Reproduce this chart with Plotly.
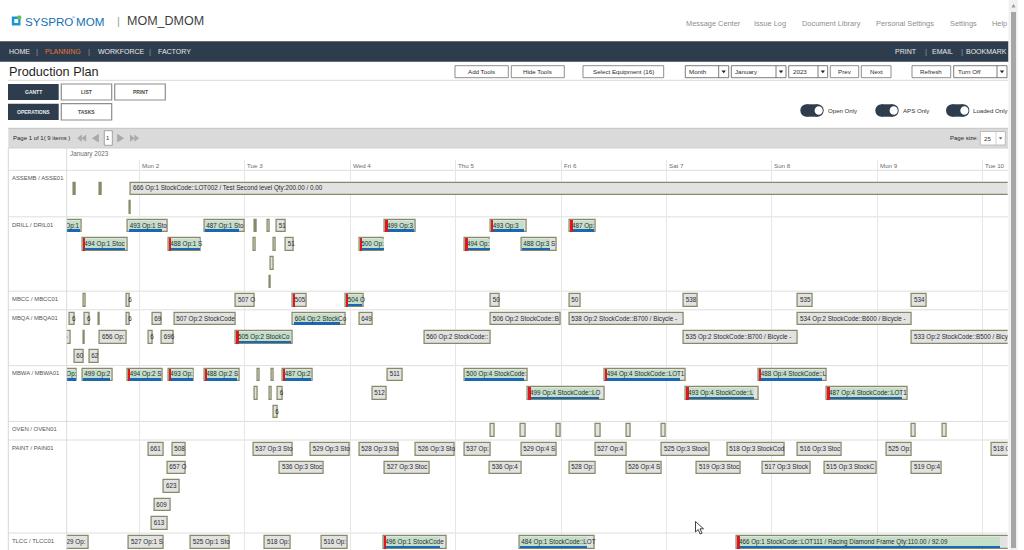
import plotly.graph_objects as go
import pandas as pd

W, H = 1024, 550
FONT = "Liberation Sans, Arial, sans-serif"

# ---------------- data ----------------
equipment = ["ASSEMB / ASSE01", "DRILL / DRIL01", "MBCC / MBCC01", "MBQA / MBQA01",
             "MBWA / MBWA01", "OVEN / OVEN01", "PAINT / PAIN01", "TLCC / TLCC01"]
equipment_lanes = [2, 4, 1, 3, 3, 1, 5, 1]
equipment_pad = [0.5, 0, 0, 0, 0, 0, 0, 0]

day_dates = ["2023-01-02", "2023-01-03", "2023-01-04", "2023-01-05", "2023-01-06",
             "2023-01-07", "2023-01-08", "2023-01-09", "2023-01-10"]
day_labels = ["Mon 2", "Tue 3", "Wed 4", "Thu 5", "Fri 6", "Sat 7", "Sun 8", "Mon 9", "Tue 10"]
month_label = "January 2023"
view_start, view_end = "2023-01-01 07:28", "2023-01-10 05:41"

# operations: equipment row, lane, start / end (hours after 2023-01-01 00:00)
op_row = ([0] * 4 + [1] * 19 + [2] * 10 + [3] * 22 + [4] * 20 + [5] * 8 + [6] * 27 + [7] * 8)
op_lane = ([0, 0, 0, 1] +
           [0, 0, 0, 0, 0, 0, 0, 0, 0, 1, 1, 1, 1, 1, 1, 1, 1, 2, 3] +
           [0] * 10 +
           [0] * 11 + [1] * 9 + [2, 2] +
           [0] * 12 + [1] * 7 + [2] +
           [0] * 8 +
           [0] * 14 + [1] * 10 + [2, 3, 4] +
           [0] * 8)
op_start = ([9.14, 15.05, 22.11, 21.81] +
            [3.90, 21.36, 38.80, 50.34, 53.14, 55.28, 79.93, 103.99, 122.04,
             11.02, 30.60, 49.95, 54.50, 57.33, 74.08, 98.14, 110.96, 53.98, 53.59] +
            [11.25, 21.04, 46.01, 58.92, 70.98, 103.99, 121.89, 147.93, 173.95, 199.90] +
            [8.22, 11.64, 14.67, 21.04, 26.96, 31.97, 58.92, 74.08, 103.99, 121.89, 173.95,
             6.40, 11.25, 15.05, 26.05, 29.10, 46.01, 88.88, 147.93, 199.90,
             9.20, 12.62] +
            [4.13, 11.02, 21.36, 30.60, 38.80, 50.86, 54.05, 56.64, 80.55, 97.98, 129.94, 165.00,
             50.34, 53.59, 55.51, 77.04, 112.48, 148.45, 180.55,
             54.50] +
            [103.99, 110.89, 118.93, 127.80, 134.86, 142.99, 199.90, 206.95] +
            [26.05, 31.51, 49.95, 63.02, 74.08, 86.99, 97.98, 110.96, 127.80, 142.99, 157.85, 173.95, 194.05, 217.95,
             30.37, 56.03, 79.93, 103.83, 121.89, 134.86, 150.95, 165.91, 179.93, 199.90,
             29.62, 27.41, 26.82] +
            [6.18, 21.66, 35.70, 52.61, 65.52, 79.54, 110.50, 160.06])
op_end = ([9.52, 15.44, 240.0, 22.11] +
          [10.89, 30.37, 47.90, 50.72, 53.59, 57.24, 86.92, 112.10, 127.89,
           21.27, 37.98, 50.41, 55.12, 59.06, 79.70, 103.83, 118.93, 54.50, 53.91] +
          [11.71, 21.88, 50.18, 62.18, 75.15, 106.11, 124.39, 151.18, 177.36, 203.31] +
          [9.20, 12.62, 15.05, 21.88, 29.10, 45.94, 70.98, 77.04, 119.84, 147.93, 199.90,
           8.38, 11.64, 21.13, 27.05, 31.90, 58.92, 103.99, 173.95, 240.0,
           11.25, 14.67] +
          [9.75, 17.85, 29.24, 36.45, 46.76, 51.32, 54.50, 63.38, 83.87, 112.41, 148.29, 180.39,
           50.86, 54.14, 56.64, 80.32, 129.85, 165.00, 198.92,
           55.51] +
          [104.90, 111.87, 119.93, 128.94, 135.86, 143.90, 200.81, 207.87] +
          [29.62, 34.56, 58.92, 71.81, 82.96, 95.87, 103.99, 118.93, 134.86, 153.75, 170.92, 183.80, 199.74, 240.0,
           34.47, 65.89, 90.02, 110.96, 127.80, 142.83, 160.90, 176.91, 191.77, 206.73,
           33.27, 31.15, 30.37] +
          [12.39, 29.46, 44.49, 58.47, 71.35, 93.98, 127.67, 232.0])
op_label = (["", "", "666 Op:1 StockCode::LOT002 / Test Second level Qty:200.00 / 0.00", ""] +
            ["499 Op:1", "493 Op:1 Sto", "487 Op:1 Sto", "", "", "51", "499 Op:3", "493 Op:3", "487 Op:",
             "494 Op:1 Stoc", "488 Op:1 S", "", "", "51", "500 Op:", "494 Op:", "488 Op:3 S", "", ""] +
            ["", "6", "507 O", "505", "504 O", "50", "50", "538", "535", "534"] +
            ["6", "6", "", "6", "69", "507 Op:2 StockCode", "604 Op:2 StockCo", "649",
             "506 Op:2 StockCode::B", "538 Op:2 StockCode::B700 / Bicycle -", "534 Op:2 StockCode::B600 / Bicycle -",
             "6", "", "656 Op:", "6", "696", "505 Op:2 StockCo", "560 Op:2 StockCode::",
             "535 Op:2 StockCode::B700 / Bicycle -", "533 Op:2 StockCode::B500 / Bicycle - C",
             "60", "62"] +
            ["493 Op:", "499 Op:2", "494 Op:2 S", "493 Op:", "488 Op:2 S", "", "", "487 Op:2", "511",
             "500 Op:4 StockCode:", "494 Op:4 StockCode::LOT1", "488 Op:4 StockCode::L",
             "", "", "6", "512", "499 Op:4 StockCode::LO", "493 Op:4 StockCode::L", "487 Op:4 StockCode::LOT1",
             "6"] +
            [""] * 8 +
            ["661", "508", "537 Op:3 Sto", "529 Op:3 Sto", "528 Op:3 Sto", "526 Op:3 Sto", "537 Op:",
             "529 Op:4 S", "527 Op:4", "525 Op:3 Stock", "518 Op:3 StockCod", "516 Op:3 Stoc", "525 Op:",
             "518 Op:3 StockCode",
             "657 O", "536 Op:3 Stoc", "527 Op:3 Stoc", "536 Op:4", "528 Op:", "526 Op:4 S", "519 Op:3 Stoc",
             "517 Op:3 Stock", "515 Op:3 StockC", "519 Op:4",
             "623", "609", "613"] +
            ["529 Op:", "527 Op:1 S", "525 Op:1 Sto", "518 Op:", "516 Op:", "496 Op:1 StockCode",
             "484 Op:1 StockCode::LOT",
             "466 Op:1 StockCode::LOT111 / Racing Diamond Frame Qty:110.00 / 92.09"])
op_done = ([0, 0, 0, 0] +
           [0.9, 0.85, 0.85, 0, 0, 0, 0.92, 0.9, 0.9, 0.92, 0.95, 0, 0, 0, 0.95, 0.95, 0.8, 0, 0] +
           [0, 0, 0, 0, 0.85, 0, 0, 0, 0, 0] +
           [0, 0, 0, 0, 0, 0, 0.88, 0, 0, 0, 0, 0, 0, 0, 0, 0, 0.95, 0, 0, 0, 0, 0] +
           [0.95, 0.9, 0.92, 0.92, 0.92, 0, 0, 0.92, 0, 0.92, 0.92, 0.92, 0, 0, 0, 0, 0.92, 0.92, 0.92, 0] +
           [0] * 8 +
           [0] * 27 +
           [0, 0, 0, 0, 0, 0.88, 0.88, 0.83])
op_late = ([0, 0, 0, 0] +
           [0, 0, 0, 0, 0, 0, 1, 1, 1, 1, 1, 0, 0, 0, 1, 1, 0, 0, 0] +
           [0, 0, 0, 1, 1, 0, 0, 0, 0, 0] +
           [0, 0, 0, 0, 0, 0, 0, 0, 0, 0, 0, 0, 0, 0, 0, 0, 1, 0, 0, 0, 0, 0] +
           [0, 0, 1, 1, 1, 0, 0, 1, 0, 0, 1, 1, 0, 0, 0, 0, 1, 1, 1, 0] +
           [0] * 8 +
           [0] * 27 +
           [0, 0, 0, 0, 0, 1, 0, 1])

# ---------------- styles ----------------
EDGE = "#868a66"
GREY = "#e2e2e2"
GREEN = "#c3dfca"
BLUE = "#1b67b3"
RED = "#e2161b"
DARK = "#2e3d4d"
BAR_W = 0.68
HOUR = 3600000.0
t0 = pd.Timestamp("2023-01-01 00:00")


def ts(h):
    return (t0 + pd.Timedelta(hours=h)).strftime("%Y-%m-%d %H:%M:%S")


row_top = []
acc = 0.0
for n, p in zip(equipment_lanes, equipment_pad):
    row_top.append(acc)
    acc += n + p
op_y = [row_top[r] + equipment_pad[r] + l + 0.5 for r, l in zip(op_row, op_lane)]
# very thin markers look like solid olive ticks
op_fill = [EDGE if (e - s) < 0.45 else GREY for s, e in zip(op_start, op_end)]

fig = go.Figure()
fig.add_trace(go.Bar(
    orientation="h", y=op_y, base=[ts(s) for s in op_start],
    x=[(e - s) * HOUR for s, e in zip(op_start, op_end)], width=BAR_W,
    marker=dict(color=op_fill, line=dict(color=EDGE, width=1.25)), hoverinfo="skip"))
prog = [i for i, d in enumerate(op_done) if d > 0]
fig.add_trace(go.Bar(
    orientation="h", y=[op_y[i] for i in prog], base=[ts(op_start[i] + 0.15) for i in prog],
    x=[(op_end[i] - op_start[i]) * op_done[i] * HOUR for i in prog], width=BAR_W - 0.1,
    marker=dict(color=GREEN, line=dict(width=0)), hoverinfo="skip"))
fig.add_trace(go.Bar(
    orientation="h", y=[op_y[i] + 0.255 for i in prog], base=[ts(op_start[i] + 0.15) for i in prog],
    x=[(op_end[i] - op_start[i]) * op_done[i] * HOUR for i in prog], width=0.1,
    marker=dict(color=BLUE, line=dict(width=0)), hoverinfo="skip"))
late = [i for i, v in enumerate(op_late) if v]
fig.add_trace(go.Bar(
    orientation="h", y=[op_y[i] for i in late], base=[ts(op_start[i]) for i in late],
    x=[0.55 * HOUR] * len(late), width=BAR_W,
    marker=dict(color=RED, line=dict(width=0)), hoverinfo="skip"))
fig.add_trace(go.Scatter(
    x=[ts(s + 0.45) for s in op_start], y=op_y, mode="text", text=op_label,
    textposition="middle right", textfont=dict(size=6.3, color="#2a2a2a", family=FONT),
    cliponaxis=True, hoverinfo="skip"))

# ---------------- page chrome ----------------
shapes, annos = [], []


def X(x):
    return x / W


def Y(y):
    return 1 - y / H


def rect(x0, y0, x1, y1, fill="rgba(0,0,0,0)", line=None, lw=1.0):
    shapes.append(dict(type="rect", xref="paper", yref="paper", x0=X(x0), x1=X(x1), y0=Y(y1), y1=Y(y0),
                       fillcolor=fill, line=dict(color=line if line else "rgba(0,0,0,0)", width=lw if line else 0),
                       layer="above"))


def seg(x0, y0, x1, y1, color, lw=1.0):
    shapes.append(dict(type="line", xref="paper", yref="paper", x0=X(x0), x1=X(x1), y0=Y(y0), y1=Y(y1),
                       line=dict(color=color, width=lw), layer="above"))


def circ(x0, y0, x1, y1, fill):
    shapes.append(dict(type="circle", xref="paper", yref="paper", x0=X(x0), x1=X(x1), y0=Y(y1), y1=Y(y0),
                       fillcolor=fill, line=dict(width=0), layer="above"))


def poly(pts, fill, line=None, lw=0):
    d = "M " + " L ".join(f"{X(x):.5f},{Y(y):.5f}" for x, y in pts) + " Z"
    shapes.append(dict(type="path", xref="paper", yref="paper", path=d, fillcolor=fill,
                       line=dict(color=line if line else "rgba(0,0,0,0)", width=lw), layer="above"))


def txt(x, y, s, size, color="#333333", anchor="left"):
    annos.append(dict(xref="paper", yref="paper", x=X(x), y=Y(y), text=s, showarrow=False,
                      xanchor=anchor, yanchor="middle", borderpad=0,
                      font=dict(size=size, color=color, family=FONT)))


def button(x0, x1, s, y0=65.7, y1=77.7):
    rect(x0, y0, x1, y1, "white", "#727272", 0.8)
    txt((x0 + x1) / 2, (y0 + y1) / 2 + 0.3, s, 6.2, "#2b2b2b", "center")


def select(x0, xa, x1, s, y0=65.7, y1=77.7):
    rect(x0, y0, x1, y1, "white", "#5a5a5a", 0.8)
    seg(xa, y0, xa, y1, "#5a5a5a", 0.8)
    txt(x0 + 3, (y0 + y1) / 2 + 0.3, s, 6.2, "#2b2b2b")
    cx, cy = (xa + x1) / 2, (y0 + y1) / 2
    poly([(cx - 2.2, cy - 1.2), (cx + 2.2, cy - 1.2), (cx, cy + 1.6)], "#222222")


def tab(x0, y0, x1, y1, s, dark=False):
    if dark:
        rect(x0, y0, x1, y1, DARK)
        txt((x0 + x1) / 2, (y0 + y1) / 2, "<b>" + s + "</b>", 5.0, "#e8ecef", "center")
    else:
        rect(x0, y0, x1, y1, "white", "#8d8d8d", 1.2)
        txt((x0 + x1) / 2, (y0 + y1) / 2, "<b>" + s + "</b>", 5.0, "#4a4a4a", "center")


# logo + product
rect(11.8, 16.5, 20.5, 25.5, "#1798d4")
rect(14.3, 19.0, 18.2, 23.0, "white")
rect(17.4, 15.6, 21.2, 19.4, "#6cbf4a")
txt(23.5, 21.5, "SYSPRO", 11.6, "#126fb4")
txt(71.3, 17.2, "®", 4, "#126fb4")
txt(74.5, 21.5, "MOM", 11.6, "#126fb4")
txt(115.5, 21.0, "|", 11, "#9a9a9a")
txt(125.5, 21.5, "MOM_DMOM", 12.5, "#3f3f3f")
for s, x in [("Message Center", 684.7), ("Issue Log", 752.7), ("Document Library", 800.7),
             ("Personal Settings", 875.3), ("Settings", 949.3)]:
    txt(x, 23.5, s, 7.4, "#8d8d8d")
txt(1008.0, 23.5, "Help", 7.4, "#8d8d8d", "right")

# navigation bar
rect(0, 41.3, 1008.5, 61.7, DARK)
for s, x, c in [("HOME", 8.0, "#e6e9ec"), ("|", 35.0, "#8895a2"), ("PLANNING", 44.3, "#e1763c"),
                ("|", 87.3, "#8895a2"), ("WORKFORCE", 96.7, "#e6e9ec"), ("|", 148.0, "#8895a2"),
                ("FACTORY", 156.7, "#e6e9ec"), ("PRINT", 894.0, "#e6e9ec"), ("|", 923.5, "#8895a2"),
                ("EMAIL", 931.0, "#e6e9ec"), ("|", 959.5, "#8895a2")]:
    txt(x, 51.6, s, 7.0 if s != "|" else 8, c)
txt(1008.0, 51.6, "BOOKMARK", 7.0, "#e6e9ec", "right")

# title row + toolbar
txt(8.0, 72.3, "Production Plan", 12.7, "#1f1f1f")
button(455.0, 508.3, "Add Tools")
button(511.3, 564.3, "Hide Tools")
button(583.0, 663.7, "Select Equipment (16)")
select(685.3, 718.7, 728.7, "Month")
select(731.3, 776.0, 786.0, "January")
select(788.7, 818.0, 827.7, "2023")
button(830.3, 858.7, "Prev")
button(861.3, 891.0, "Next")
button(912.0, 950.7, "Refresh")
select(953.7, 997.0, 1007.0, "Turn Off")
seg(8, 80.3, 1008, 80.3, "#d9d9d9")

# view tabs
tab(8.0, 84.0, 58.7, 100.0, "GANTT", True)
tab(61.3, 84.0, 111.7, 100.0, "LIST")
tab(114.7, 84.0, 165.3, 100.0, "PRINT")
tab(8.0, 103.7, 58.7, 120.0, "OPERATIONS", True)
tab(61.3, 103.7, 111.7, 120.0, "TASKS")

# toggles
for x0, s in [(800.3, "Open Only"), (875.3, "APS Only"), (946.0, "Loaded Only")]:
    circ(x0, 104.3, x0 + 12.4, 116.7, DARK)
    circ(x0 + 11.0, 104.3, x0 + 23.4, 116.7, DARK)
    rect(x0 + 6.2, 104.3, x0 + 17.2, 116.7, DARK)
    circ(x0 + 14.3, 106.2, x0 + 22.5, 114.8, "white")
    txt(x0 + 26.3, 110.6, s, 6.1, "#333333")

# pager bar
rect(8.3, 128.3, 1008.0, 148.0, "#dadada")
seg(8.3, 128.3, 1008.0, 128.3, "#c4c4c4")
txt(11.5, 138.3, "Page 1 of 1( 9 items )", 6.0, "#262626")
PG = "#a9a9a9"
poly([(81.8, 134.6), (77.2, 138.2), (81.8, 141.8)], PG)
poly([(86.2, 134.6), (81.6, 138.2), (86.2, 141.8)], PG)
poly([(98.8, 133.8), (92.0, 138.2), (98.8, 142.6)], PG)
rect(104.3, 130.7, 112.3, 145.3, "white", "#8f8f8f", 0.8)
txt(108.3, 138.3, "1", 6.0, "#333333", "center")
poly([(117.2, 133.8), (124.0, 138.2), (117.2, 142.6)], PG)
poly([(130.0, 134.6), (134.6, 138.2), (130.0, 141.8)], PG)
poly([(134.4, 134.6), (139.0, 138.2), (134.4, 141.8)], PG)
txt(948.7, 138.3, "Page size:", 6.0, "#262626")
rect(980.3, 131.5, 1005.3, 145.0, "white", "#b0b0b0", 0.8)
seg(996.0, 131.5, 996.0, 145.0, "#c8c8c8", 0.8)
txt(983.0, 138.3, "25", 6.2, "#333333")
poly([(998.8, 137.2), (1002.4, 137.2), (1000.6, 139.4)], "#666666")

# gantt frame + headers
seg(8.3, 148.0, 1008.0, 148.0, "#d0d0d0")
seg(8.3, 148.0, 8.3, 550.0, "#d6d6d6")
seg(66.7, 148.0, 66.7, 550.0, "#dcdcdc")
txt(69.0, 153.8, month_label, 6.3, "#6b6b6b")
for d, s in zip(day_dates, day_labels):
    annos.append(dict(xref="x", yref="paper", x=d, y=Y(165.4), text=s, showarrow=False, xanchor="left",
                      yanchor="middle", xshift=1.5, borderpad=0,
                      font=dict(size=6.2, color="#6b6b6b", family=FONT)))
for r, name in enumerate(equipment):
    annos.append(dict(xref="paper", yref="y", x=X(11.0), y=row_top[r] + 0.42, text=name, showarrow=False,
                      xanchor="left", yanchor="middle", borderpad=0,
                      font=dict(size=5.9, color="#555555", family=FONT)))
    shapes.append(dict(type="line", xref="paper", yref="y", x0=X(8.3), x1=X(1007.7), y0=row_top[r],
                       y1=row_top[r], line=dict(color="#dedede", width=1), layer="below"))

# scrollbar + cursor
rect(1008.5, 0, 1018.0, 550.0, "#f1f1f1")
rect(1011.0, 12.0, 1016.0, 548.0, "#a6a6a6")
poly([(1011.5, 7.5), (1015.5, 7.5), (1013.5, 3.8)], "#9a9a9a")
poly([(695.5, 521.5), (695.5, 532.0), (698.2, 529.6), (700.2, 534.0), (702.0, 533.2), (700.0, 528.8),
      (703.5, 528.8)], "white", "#111111", 0.8)

fig.update_layout(
    width=W, height=H, autosize=False, margin=dict(l=0, r=0, t=0, b=0),
    paper_bgcolor="white", plot_bgcolor="rgba(0,0,0,0)", barmode="overlay", bargap=0,
    showlegend=False, hovermode=False, font=dict(family=FONT),
    xaxis=dict(type="date", range=[view_start, view_end], domain=[66.7 / W, 1007.7 / W],
               showgrid=True, gridcolor="#e7e7e7", gridwidth=1, tick0=day_dates[0], dtick=86400000,
               showticklabels=False, ticks="", zeroline=False, showline=False, fixedrange=True),
    yaxis=dict(range=[20.414, -0.554], domain=[0, 1 - 160.0 / H], showgrid=False, showticklabels=False,
               zeroline=False, ticks="", showline=False, fixedrange=True),
    shapes=shapes, annotations=annos,
)

fig.write_html("out.html", config={"displayModeBar": False},
               post_script="document.body.style.margin='0';document.body.style.overflow='hidden';")
